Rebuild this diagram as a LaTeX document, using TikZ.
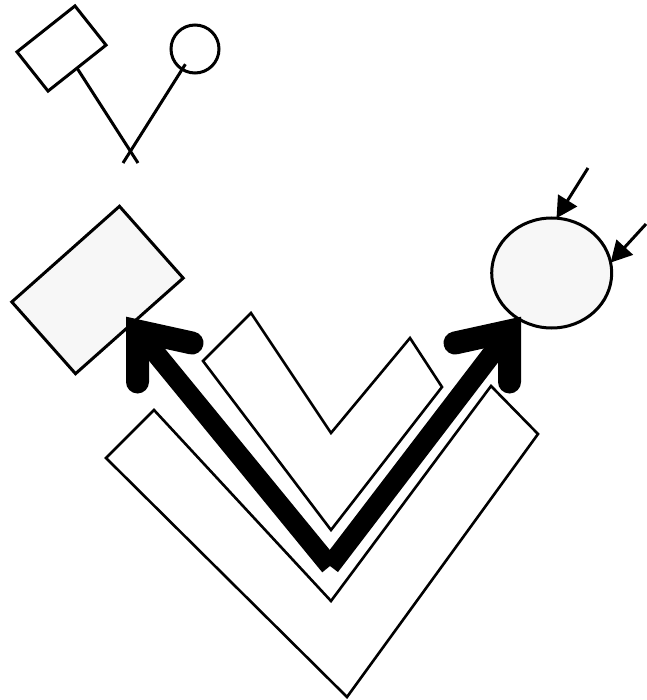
\documentclass[tikz,border=0pt]{standalone}
\usepackage{tikz}
\usetikzlibrary{shapes.geometric, arrows.meta, calc}

\tikzset{
    outline/.style={draw, line width=3pt, inner sep=0pt, outer sep=0pt},
    stipple/.style={fill=black!3},
    wedge/.style={draw, line width=2.6pt, line join=miter},
    shaft/.style={line width=20pt, line cap=butt},
    barb/.style={line width=23pt, line cap=round, line join=miter},
    feed/.style={line width=3pt, -{Triangle[length=21pt, width=22pt]}},
}

\begin{document}
\begin{tikzpicture}[x=1pt, y=-1pt]
        \useasboundingbox (0,0) rectangle (646,700); % page size

        % small pair at the top
        \node [outline, rectangle, minimum width=74pt, minimum height=50pt, rotate=38.4] (card) at (61.5,48.5) {};
        \node [outline, circle, minimum size=48pt] (knob) at (195,49) {};
        \coordinate (legA) at (138,163);
        \coordinate (legB) at (123,163);
        \draw [line width=3pt] (card.south) -- (legA);
        \draw [line width=3pt] ($(knob.center)!18pt!(legB)$) -- (legB);

        % the two open chevrons
        \draw [wedge] (251,313) -- (203,361) -- (331,530) -- (442,387) -- (410,338) -- (331,433) -- cycle;
        \draw [wedge] (154,410) -- (106,458) -- (347,697) -- (538,434) -- (491,386) -- (331,601) -- cycle;

        % shaded block and ball
        \node [outline, stipple, rectangle, minimum width=144pt, minimum height=96pt, rotate=41.6] (slab) at (97.5,290) {};
        \node [outline, stipple, ellipse, minimum width=120pt, minimum height=110pt] (lens) at (551.7,273) {};
        \coordinate (inA) at (588,168);
        \coordinate (inB) at (646,224);
        \draw [feed] (inA) -- (lens.85);
        \draw [feed] (inB) -- (lens.10);

        % heavy double arrow
        \coordinate (bend) at (330,566);
        \coordinate (tipL) at (137.5,331);
        \coordinate (tipR) at (509.5,331);
        \draw [shaft] (bend) -- (tipL);
        \draw [shaft] (bend) -- (tipR);
        \draw [barb] ([shift={(54.5,12)}]tipL) -- (tipL) -- ([shift={(0,51)}]tipL);
        \draw [barb] ([shift={(-54.5,12)}]tipR) -- (tipR) -- ([shift={(0,51)}]tipR);
    \end{tikzpicture}
\end{document}
